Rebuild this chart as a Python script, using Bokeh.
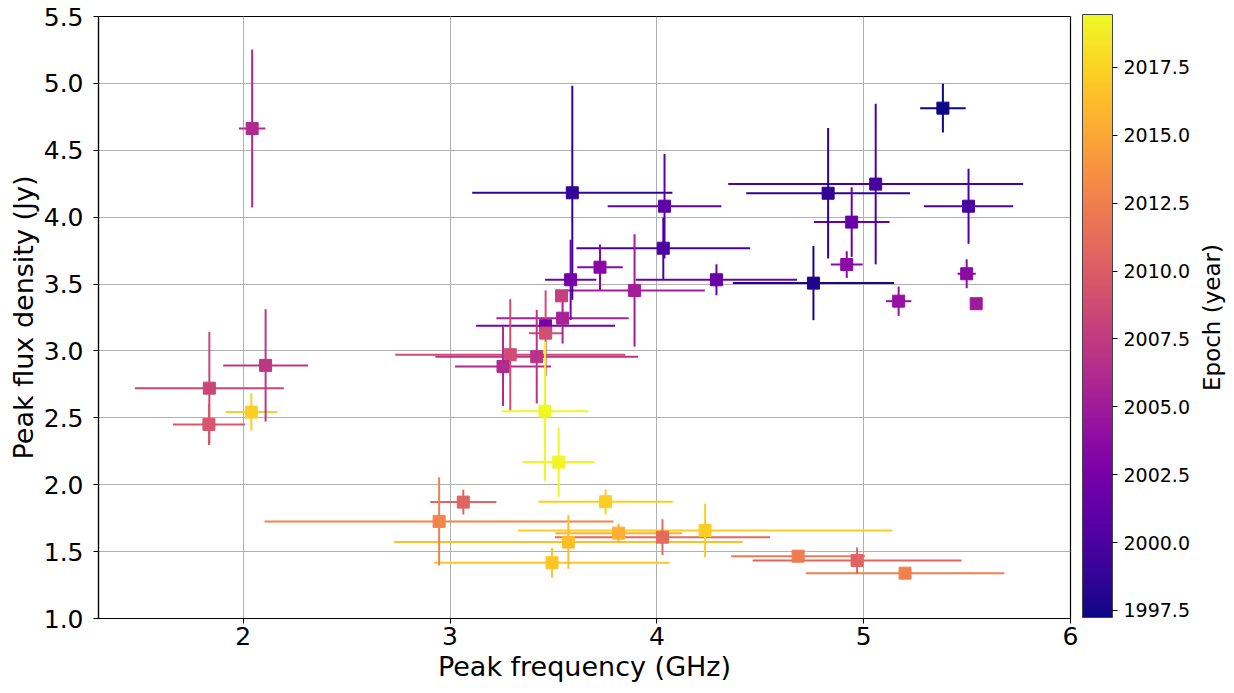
import numpy as np
from bokeh.plotting import figure
from bokeh.layouts import row
from bokeh.models import (ColumnDataSource, LinearColorMapper, ColorBar, FixedTicker,
                          PrintfTickFormatter, Range1d, Title)
from bokeh.palettes import Plasma256
from bokeh.transform import linear_cmap
from bokeh.embed import file_html
from bokeh.resources import INLINE

# ---- data ----
freq = [2.043, 2.108, 1.836, 1.834, 2.039, 3.591, 4.037, 4.031, 3.725, 3.583,
        4.288, 3.892, 3.539, 3.544, 3.462, 3.462, 3.291, 3.419, 3.256, 3.459,
        3.525, 3.064, 2.947, 3.752, 3.815, 3.572, 3.493, 4.027, 4.233, 4.683,
        4.968, 5.200, 5.383, 5.058, 4.828, 5.507, 4.942, 4.918, 4.757, 5.498,
        5.169, 5.544]
freq_err = [0.064, 0.205, 0.360, 0.174, 0.126, 0.484, 0.275, 0.420, 0.110, 0.124,
            0.390, 0.340, 0.000, 0.320, 0.336, 0.080, 0.556, 0.490, 0.232, 0.210,
            0.174, 0.160, 0.844, 0.325, 0.306, 0.843, 0.569, 0.520, 0.905, 0.324,
            0.505, 0.480, 0.110, 0.713, 0.396, 0.216, 0.183, 0.077, 0.390, 0.044,
            0.061, 0.000]
flux = [4.663, 2.892, 2.722, 2.451, 2.543, 4.182, 4.082, 3.768, 3.626, 3.532,
        3.532, 3.452, 3.412, 3.245, 3.188, 3.133, 2.972, 2.957, 2.884, 2.550,
        2.169, 1.870, 1.726, 1.873, 1.638, 1.571, 1.417, 1.608, 1.658, 1.466,
        1.434, 1.339, 4.815, 4.247, 4.179, 4.082, 3.963, 3.646, 3.507, 3.577,
        3.372, 3.353]
flux_err = [0.590, 0.420, 0.420, 0.155, 0.140, 0.800, 0.390, 0.230, 0.170, 0.300,
            0.116, 0.420, 0.000, 0.190, 0.050, 0.320, 0.415, 0.350, 0.295, 0.520,
            0.260, 0.093, 0.330, 0.093, 0.070, 0.200, 0.110, 0.134, 0.200, 0.000,
            0.096, 0.000, 0.183, 0.600, 0.488, 0.280, 0.260, 0.100, 0.277, 0.108,
            0.110, 0.000]
epoch = [2006.1, 2007.2, 2008.3, 2009.5, 2017.2, 1998.7, 2001.0, 2000.1, 2003.5, 2002.3,
         2001.7, 2005.2, 2007.9, 2005.4, 2002.3, 2009.0, 2008.8, 2006.8, 2006.1, 2019.45,
         2019.2, 2010.6, 2012.8, 2017.2, 2015.5, 2016.4, 2016.8, 2011.0, 2017.2, 2012.3,
         2010.6, 2012.6, 1997.24, 1999.9, 1998.6, 2000.1, 2001.7, 2003.7, 1997.9, 2003.7,
         2004.3, 2004.8]

x_ticks = [2, 3, 4, 5, 6]
y_ticks = [1.0, 1.5, 2.0, 2.5, 3.0, 3.5, 4.0, 4.5, 5.0, 5.5]
cbar_ticks = [1997.5, 2000.0, 2002.5, 2005.0, 2007.5, 2010.0, 2012.5, 2015.0, 2017.5]

FONT = "DejaVu Sans"

fx = np.array(freq); fxe = np.array(freq_err)
fy = np.array(flux); fye = np.array(flux_err)
src = ColumnDataSource(dict(x=fx, y=fy, x0=fx - fxe, x1=fx + fxe,
                            y0=fy - fye, y1=fy + fye, epoch=epoch))

lo, hi = min(epoch), max(epoch)
cmap = linear_cmap("epoch", Plasma256, lo, hi)
mapper = LinearColorMapper(palette=Plasma256, low=lo, high=hi)

p = figure(width=1196, height=693, title=None,
           x_range=Range1d(1.30, 6.0), y_range=Range1d(1.0, 5.5),
           output_backend="svg", toolbar_location=None,
           min_border_left=98, min_border_right=126,
           min_border_top=16, min_border_bottom=75)
p.background_fill_color = "white"
p.border_fill_color = "white"
p.outline_line_color = "black"
p.outline_line_width = 1.2

p.grid.grid_line_color = "#b0b0b0"
p.grid.grid_line_width = 1
p.xgrid.ticker = FixedTicker(ticks=x_ticks)
p.ygrid.ticker = FixedTicker(ticks=y_ticks)

p.xaxis.ticker = FixedTicker(ticks=x_ticks)
p.yaxis.ticker = FixedTicker(ticks=y_ticks)
p.xaxis.formatter = PrintfTickFormatter(format="%d")
p.yaxis.formatter = PrintfTickFormatter(format="%.1f")
p.xaxis.axis_label = "Peak frequency (GHz)"
p.yaxis.axis_label = "Peak flux density (Jy)"
for ax in (p.xaxis, p.yaxis):
    ax.axis_label_text_font = FONT
    ax.axis_label_text_font_size = "27px"
    ax.axis_label_text_font_style = "normal"
    ax.axis_label_text_color = "black"
    ax.major_label_text_font = FONT
    ax.major_label_text_font_size = "25px"
    ax.major_label_text_color = "black"
    ax.axis_line_color = "black"
    ax.axis_line_width = 1.2
    ax.major_tick_line_color = "black"
    ax.major_tick_in = 0
    ax.major_tick_out = 5
    ax.minor_tick_line_color = None
p.xaxis.major_label_standoff = 3
p.xaxis.axis_label_standoff = 3
p.yaxis.major_label_standoff = 10
p.yaxis.axis_label_standoff = 2

p.segment(x0="x0", y0="y", x1="x1", y1="y", source=src, line_color=cmap, line_width=2)
p.segment(x0="x", y0="y0", x1="x", y1="y1", source=src, line_color=cmap, line_width=2)
p.scatter("x", "y", source=src, marker="square", size=12,
          fill_color=cmap, line_color=cmap)

cb = ColorBar(color_mapper=mapper, width=30, height=603, location=(984, 1),
              padding=0, margin=0,
              ticker=FixedTicker(ticks=cbar_ticks),
              formatter=PrintfTickFormatter(format="%.1f"),
              major_label_text_font=FONT, major_label_text_font_size="19px",
              major_label_text_color="black",
              major_tick_in=0, major_tick_out=5, major_tick_line_color="black",
              minor_tick_line_color=None,
              bar_line_color="#444444", bar_line_width=1,
              background_fill_alpha=0, border_line_color=None,
              label_standoff=6)
p.add_layout(cb)

# narrow companion figure that only carries the colour-bar label
q = figure(width=38, height=693, title=None, output_backend="svg",
           toolbar_location=None, x_axis_location=None, y_axis_location=None,
           min_border_left=0, min_border_right=0,
           min_border_top=16, min_border_bottom=75)
q.outline_line_color = None
q.grid.visible = False
q.background_fill_color = "white"
q.border_fill_color = "white"
q.add_layout(Title(text="Epoch (year)", align="center", text_font=FONT,
                   text_font_size="23px", text_font_style="normal",
                   text_color="black", standoff=0, offset=0), "left")

layout = row(p, q)
open("out.html", "w").write(file_html(layout, INLINE))
